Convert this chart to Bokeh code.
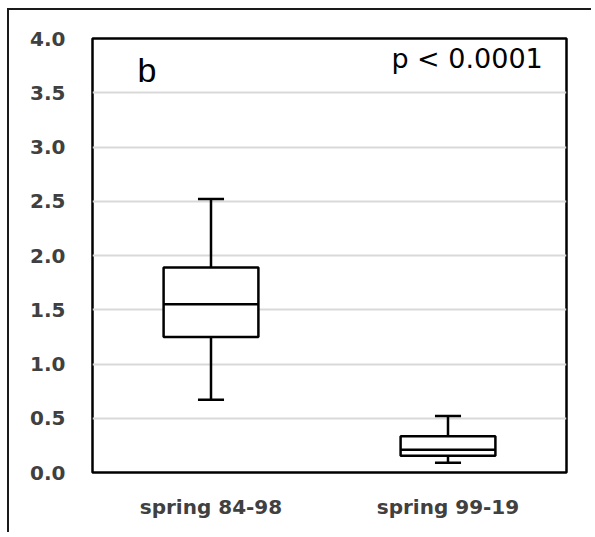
from bokeh.plotting import figure
from bokeh.models import (ColumnDataSource, FactorRange, Range1d, Label, FixedTicker,
                          CustomJSTickFormatter)
from bokeh.transform import dodge
from bokeh.embed import file_html
from bokeh.resources import INLINE

# Spring values per period: whisker ends, quartiles and median
categories = ["spring 84-98", "spring 99-19"]
whisker_low = [0.67, 0.09]
q1 = [1.25, 0.155]
median = [1.55, 0.21]
q3 = [1.89, 0.335]
whisker_high = [2.52, 0.52]
y_ticks = [0.0, 0.5, 1.0, 1.5, 2.0, 2.5, 3.0, 3.5, 4.0]

src = ColumnDataSource(dict(cat=categories, lo=whisker_low, q1=q1, med=median,
                            q3=q3, hi=whisker_high))

p = figure(width=584, height=524, x_range=FactorRange(*categories),
           y_range=Range1d(0, 4), output_backend="svg", toolbar_location=None,
           min_border_left=83, min_border_top=28, min_border_right=27,
           min_border_bottom=62)
# outer panel border on the left and top
p.styles = {"margin-left": "7px", "margin-top": "8px",
            "border-left": "2px solid #1a1a1a", "border-top": "2px solid #1a1a1a"}

p.background_fill_color = "white"
p.border_fill_color = "white"
p.outline_line_color = "black"
p.outline_line_width = 2.5

# gridlines
p.xgrid.grid_line_color = None
p.ygrid.grid_line_color = "#d9d9d9"
p.ygrid.grid_line_width = 2
p.yaxis.ticker = FixedTicker(ticks=y_ticks)
p.yaxis.formatter = CustomJSTickFormatter(code="return tick.toFixed(1);")

for ax in (p.xaxis, p.yaxis):
    ax.axis_line_color = None
    ax.major_tick_line_color = None
    ax.minor_tick_line_color = None
    ax.major_tick_out = 0
    ax.major_tick_in = 0
    ax.major_label_text_font = "DejaVu Sans"
    ax.major_label_text_font_style = "bold"
    ax.major_label_text_font_size = "20px"
    ax.major_label_text_color = "#404040"
p.yaxis.major_label_standoff = 27
p.xaxis.major_label_standoff = 22

line_kw = dict(line_color="black", line_width=2.5)
cap = 0.055
half = 0.2

# whisker stems
p.segment(x0="cat", x1="cat", y0="lo", y1="q1", source=src, **line_kw)
p.segment(x0="cat", x1="cat", y0="q3", y1="hi", source=src, **line_kw)
# whisker caps
p.segment(x0=dodge("cat", -cap, range=p.x_range), x1=dodge("cat", cap, range=p.x_range),
          y0="lo", y1="lo", source=src, **line_kw)
p.segment(x0=dodge("cat", -cap, range=p.x_range), x1=dodge("cat", cap, range=p.x_range),
          y0="hi", y1="hi", source=src, **line_kw)
# boxes
p.vbar(x="cat", bottom="q1", top="q3", width=2 * half, source=src,
       fill_color="white", **line_kw)
# medians
p.segment(x0=dodge("cat", -half, range=p.x_range), x1=dodge("cat", half, range=p.x_range),
          y0="med", y1="med", source=src, **line_kw)

p.add_layout(Label(x=0.19, y=3.53, text="b", text_font="Liberation Sans",
                   text_font_size="34px", text_color="black"))
p.add_layout(Label(x=1.90, y=3.67, text="p < 0.0001", text_align="right",
                   text_font="DejaVu Sans", text_font_size="27px", text_color="black"))

open("out.html", "w").write(file_html(p, INLINE))
